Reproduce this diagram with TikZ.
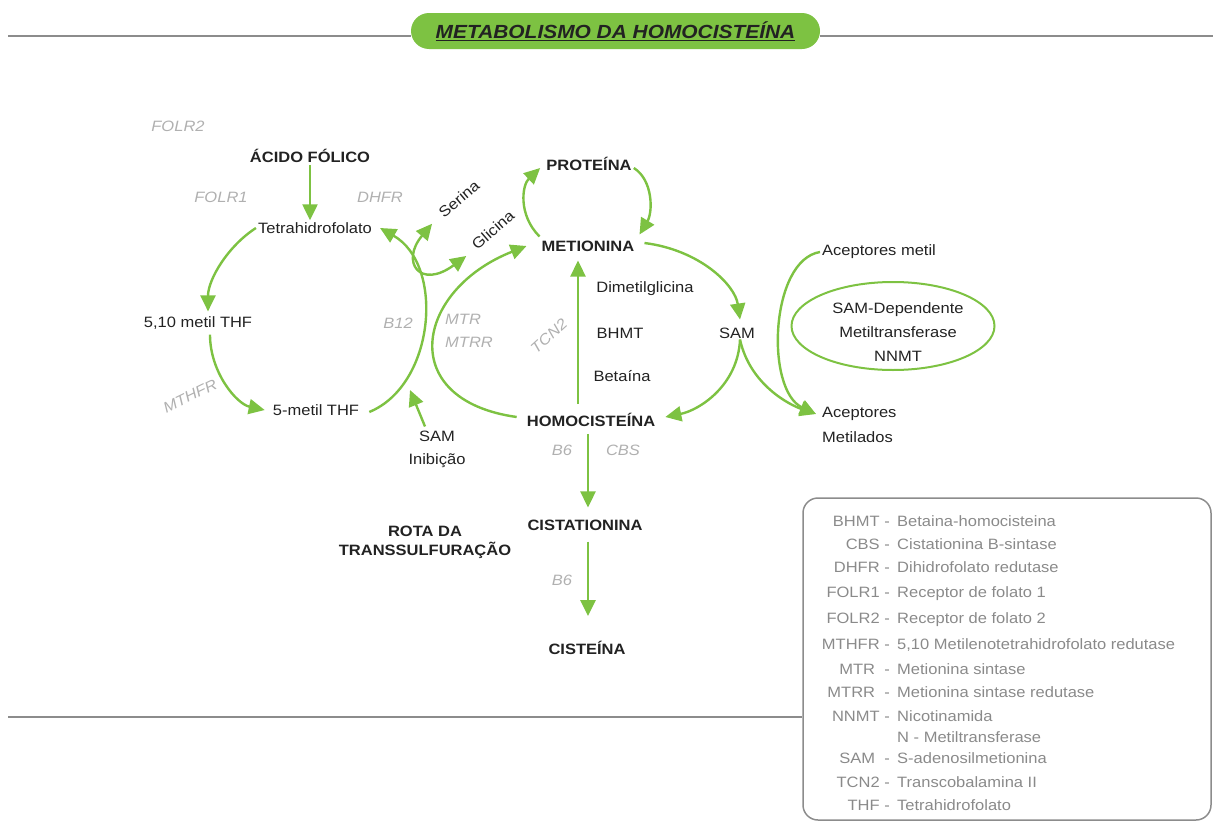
\documentclass[tikz,border=0pt]{standalone}
\usepackage{fontspec}
\setmainfont{Liberation Sans}[FakeStretch=1.1]
\usetikzlibrary{arrows.meta,shapes.geometric}
\definecolor{gr}{HTML}{7DC242}
\definecolor{txt}{HTML}{222222}
\definecolor{enzgray}{HTML}{B0B0B0}
\definecolor{leggray}{HTML}{8A8A8A}
\definecolor{linegray}{HTML}{8C8C8C}
\begin{document}
\begin{tikzpicture}[x=1pt,y=1pt,
  every node/.style={font=\fontsize{15}{18}\selectfont, text=txt, inner sep=2pt},
  bold/.style={font=\fontsize{15}{18}\selectfont\bfseries},
  enz/.style={font=\fontsize{15}{18}\selectfont\itshape, text=enzgray},
  arr/.style={draw=gr, line width=2.4pt, -{Triangle[length=16pt,width=15pt]}},
  darr/.style={draw=gr, line width=2.4pt, {Triangle[length=16pt,width=15pt]}-{Triangle[length=16pt,width=15pt]}},
  leg/.style={font=\fontsize{15}{18}\selectfont, text=leggray, text height=11pt, text depth=3pt},
  gline/.style={draw=linegray, line width=2pt}]
\useasboundingbox (0,0) rectangle (1213,-822);

% title
\node[fill=gr, rounded corners=18pt, minimum width=409pt, minimum height=36pt] (title) at (615.5,-31)
  {\fontsize{19}{22}\selectfont\bfseries\itshape\underline{METABOLISMO DA HOMOCISTEÍNA}};
\coordinate (tl) at (8,-36);
\coordinate (tr) at (1213,-36);
\draw[gline] (tl) -- (tl -| title.west);
\draw[gline] (title.east |- tr) -- (tr);

% legend box
\node[draw=linegray, line width=1.5pt, rounded corners=15pt, minimum width=408pt, minimum height=322pt] (legbox) at (1007,-659) {};
\coordinate (bl) at (8,-717);
\draw[gline] (bl) -- (bl -| legbox.west);

% legend entries
\foreach \ab/\de/\yy [count=\i] in {BHMT -/Betaina-homocisteina/522, CBS -/Cistationina B-sintase/545,
  DHFR -/Dihidrofolato redutase/568, FOLR1 -/Receptor de folato 1/593, FOLR2 -/Receptor de folato 2/619,
  MTHFR -/{5,10 Metilenotetrahidrofolato redutase}/645, MTR \ -/Metionina sintase/670,
  MTRR \ -/Metionina sintase redutase/693, NNMT -/Nicotinamida/717, SAM \ -/S-adenosilmetionina/759,
  TCN2 -/Transcobalamina II/783, THF -/Tetrahidrofolato/806}{
  \node[leg, anchor=east] (la\i) at (892,-\yy) {\ab};
  \node[leg, anchor=west] (ld\i) at (895,-\yy) {\de};
}
\node[leg, anchor=west] (ldx) at (895,-738) {N - Metiltransferase};

% folate cycle
\node[enz] (folr2) at (178,-126) {FOLR2};
\node[bold] (acido) at (310,-156) {ÁCIDO FÓLICO};
\node[enz] (folr1) at (221,-197) {FOLR1};
\node[enz] (dhfr) at (380,-197) {DHFR};
\node (tetra) at (315,-228) {Tetrahidrofolato};
\node (m510) at (198,-323) {5,10 metil THF};
\node[enz] (b12) at (398,-323) {B12};
\node[enz, rotate=26] (mthfr) at (190,-396) {MTHFR};
\node (m5) at (316,-410) {5-metil THF};
\node[align=center, font=\fontsize{15}{23}\selectfont] (saminib) at (437,-449) {SAM\\Inibição};
\coordinate (inib) at (410,-390);

\node[rotate=40] (serina) at (459,-199) {Serina};
\node[rotate=41] (glicina) at (493,-230) {Glicina};

% methionine cycle
\node[bold] (prot) at (589,-164) {PROTEÍNA};
\node[bold] (met) at (588,-246) {METIONINA};
\node[enz, align=left, anchor=west, font=\fontsize{15}{23}\selectfont\itshape] (mtr) at (443,-331) {MTR\\MTRR};
\node[enz, rotate=42] (tcn2) at (549,-336) {TCN2};
\node (dimet) at (645,-289) {Dimetilglicina};
\node (bhmt) at (620,-333) {BHMT};
\node (betaina) at (622,-376) {Betaína};
\node (sam) at (737,-333) {SAM};
\node[bold] (homo) at (591,-420) {HOMOCISTEÍNA};
\node[enz] (b6a) at (562,-450) {B6};
\node[enz] (cbs) at (623,-450) {CBS};
\node[bold] (cist) at (585,-525) {CISTATIONINA};
\node[bold, align=center, font=\fontsize{15}{19}\selectfont\bfseries] (rota) at (425,-542) {ROTA DA\\TRANSSULFURAÇÃO};
\node[enz] (b6b) at (562,-580) {B6};
\node[bold] (cisteina) at (587,-648) {CISTEÍNA};

% acceptors
\node[anchor=west] (acmetil) at (820,-252) {Aceptores metil};
\node[ellipse, draw=gr, line width=2pt, minimum width=203pt, minimum height=88pt, inner sep=0pt] (ell) at (893,-326) {};
\node[align=center, font=\fontsize{15}{24}\selectfont] (samdep) at (898,-332) {SAM-Dependente\\Metiltransferase\\NNMT};
\node[anchor=west] (acmet) at (820,-414) {Aceptores};
\node[anchor=west] (acmet2) at (820,-437) {Metilados};

% arrows: folate cycle
\draw[arr] (acido.south) -- (acido.south |- tetra.north);
\draw[arr] (tetra.west) .. controls +(-28,-18) and +(0,32) .. ([xshift=10pt,yshift=3pt]m510.north);
\draw[arr] ([xshift=12pt,yshift=-3pt]m510.south) .. controls +(0,-38) and +(-28,6) .. ([xshift=-6pt]m5.west);
\draw[arr] ([xshift=8pt,yshift=-2pt]m5.east) .. controls (435,-385) and (445,-265) .. ([xshift=6pt]tetra.east);
\draw[arr] ([xshift=-12pt,yshift=2pt]saminib.north) -- (inib);
\draw[darr] ([shift={(-7pt,-8pt)}]serina.west) .. controls (400,-262) and (420,-290) .. ([shift={(-6pt,-8pt)}]glicina.west);

% arrows: methionine cycle
\draw[arr] ([xshift=-8pt,yshift=3pt]homo.west) .. controls (395,-400) and (415,-290) .. ([xshift=-13pt]met.west);
\draw[arr] ([yshift=2pt]met.north west) .. controls (518,-215) and (522,-185) .. ([xshift=-4pt,yshift=-4pt]prot.west);
\draw[arr] ([yshift=-4pt]prot.east) .. controls (653,-180) and (653,-212) .. ([xshift=3pt,yshift=4pt]met.north east);
\draw[arr] ([xshift=-13pt,yshift=7pt]homo.north) -- ([xshift=-10pt,yshift=-7pt]met.south);
\draw[arr] ([xshift=8pt,yshift=3pt]met.east) .. controls (700,-250) and (735,-285) .. ([xshift=3pt,yshift=6pt]sam.north);
\draw[arr] ([xshift=3pt,yshift=1pt]sam.south) .. controls (738,-385) and (700,-410) .. ([xshift=8pt,yshift=3pt]homo.east);
\draw[arr] ([xshift=3pt,yshift=1pt]sam.south) .. controls (750,-385) and (790,-405) .. ([xshift=-4pt,yshift=0pt]acmet.west);
\draw[arr] (acmetil.west) .. controls (770,-260) and (765,-390) .. ([xshift=-4pt,yshift=0pt]acmet.west);

% transsulfuration
\draw[arr] ([xshift=-3pt,yshift=-5pt]homo.south) -- ([xshift=3pt,yshift=10pt]cist.north);
\draw[arr] ([xshift=3pt,yshift=-9pt]cist.south) -- ([xshift=1pt,yshift=23pt]cisteina.north);
\end{tikzpicture}
\end{document}
